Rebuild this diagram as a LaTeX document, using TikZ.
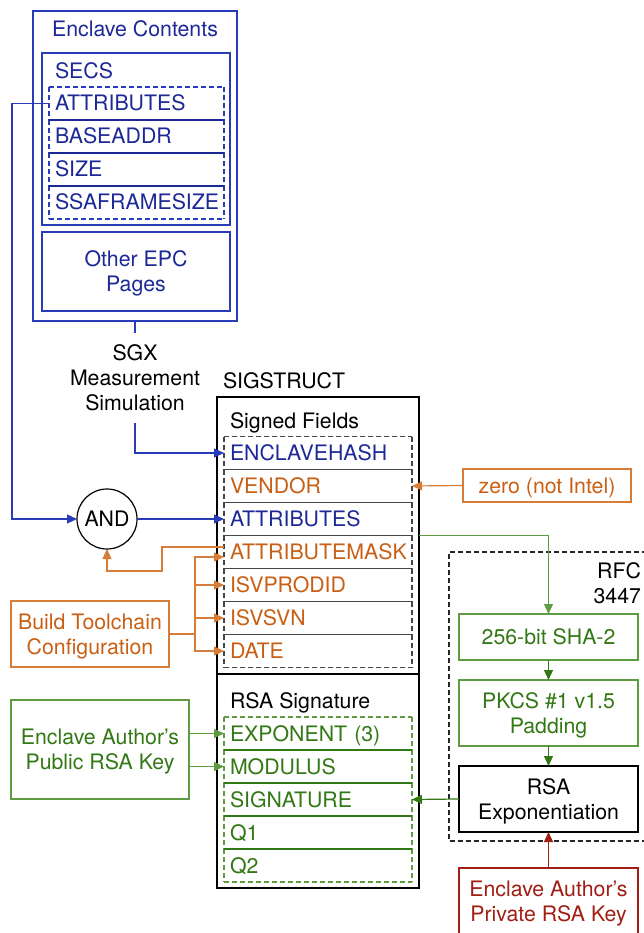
\documentclass[tikz,border=0pt]{standalone}
\usepackage{fontspec}
\setmainfont{TeX Gyre Heros}
\usetikzlibrary{arrows.meta}
\definecolor{bluet}{RGB}{28,40,150}
\definecolor{bluel}{RGB}{40,60,185}
\definecolor{orat}{RGB}{200,95,20}
\definecolor{oral}{RGB}{215,125,55}
\definecolor{grnt}{RGB}{50,120,20}
\definecolor{grnl}{RGB}{95,155,65}
\definecolor{redt}{RGB}{160,30,20}
\definecolor{grayd}{RGB}{70,70,70}
\begin{document}
\begin{tikzpicture}[x=1pt,y=-1pt, line width=1.2pt,
  font=\fontsize{21.3}{25}\selectfont,
  >={Triangle[length=10pt,width=9pt]},
  box/.style={draw, rectangle, inner sep=0pt, outer sep=0pt, align=center, anchor=north west, text depth=0pt},
  rowbase/.style={rectangle, inner xsep=6pt, inner ysep=0pt, outer sep=0pt, minimum height=33pt,
     align=left, text height=15pt, text depth=0pt, anchor=west},
  rowE/.style={rowbase, text width=163pt},
  rowS/.style={rowbase, text width=176pt},
  lbl/.style={inner sep=0pt, outer sep=0pt, text height=15pt, text depth=0pt},
  dsh/.style={dash pattern=on 5pt off 3pt, line width=1.1pt},
  sep/.style={line width=1.1pt}
]
\useasboundingbox (0,0) rectangle (644,933);

% ---------------- Enclave contents
\node[box, draw=bluel, minimum width=204pt, minimum height=310pt] (enc) at (33,11) {};
\node[lbl, text=bluet] (enctitle) at (135,29) {Enclave Contents};
\node[box, draw=bluel, minimum width=188pt, minimum height=172pt] (secs) at (42,53) {};
\node[lbl, anchor=west, text=bluet] (secstitle) at (55,71) {SECS};
\node[rowE, text=bluet] (a1) at (49,103.5) {ATTRIBUTES};
\node[rowE, text=bluet] (ba) at (49,136.5) {BASEADDR};
\node[rowE, text=bluet] (sz) at (49,169.5) {SIZE};
\node[rowE, text=bluet] (ssa) at (49,202.5) {SSAFRAMESIZE};
\foreach \r in {a1,ba,sz,ssa}{\draw[bluel,dsh] (\r.north west) -- (\r.south west) (\r.north east) -- (\r.south east);}
\draw[bluel,dsh] (a1.north west) -- (a1.north east) (ssa.south west) -- (ssa.south east);
\foreach \r in {a1,ba,sz}{\draw[bluet,sep] (\r.south west) -- (\r.south east);}
\node[box, draw=bluel, text=bluet, minimum width=188pt, minimum height=79pt] (epc) at (42,232) {Other EPC\\Pages};

% ---------------- SGX measurement
\node[inner ysep=12pt, inner xsep=0pt, outer sep=0pt, align=center, anchor=north, text depth=0pt] (sgx) at (135,333) {SGX\\Measurement\\Simulation};
\draw[bluel] (enc.south) -- (sgx.north);

% ---------------- SIGSTRUCT
\node[lbl, anchor=west] (sigt) at (223,381) {SIGSTRUCT};
\node[box, draw=black, minimum width=202pt, minimum height=277pt] (sf) at (217,397) {};
\node[box, draw=black, minimum width=202pt, minimum height=214pt] (rs) at (217,674) {};
\node[lbl, anchor=west] (sft) at (230,421) {Signed Fields};
\node[lbl, anchor=west] (rst) at (230,701) {RSA Signature};

\node[rowS, text=bluet] (eh) at (224,453) {ENCLAVEHASH};
\node[rowS, text=orat] (ven) at (224,486) {VENDOR};
\node[rowS, text=bluet] (at2) at (224,519) {ATTRIBUTES};
\node[rowS, text=orat] (am) at (224,552) {ATTRIBUTEMASK};
\node[rowS, text=orat] (isvp) at (224,585) {ISVPRODID};
\node[rowS, text=orat] (isvs) at (224,618) {ISVSVN};
\node[rowS, text=orat] (date) at (224,651) {DATE};
\foreach \r in {eh,ven,at2,am,isvp,isvs,date}{\draw[grayd,dsh] (\r.north west) -- (\r.south west) (\r.north east) -- (\r.south east);}
\draw[grayd,dsh] (eh.north west) -- (eh.north east) (date.south west) -- (date.south east);
\foreach \r in {eh,ven,at2,am,isvp,isvs}{\draw[grayd,sep] (\r.south west) -- (\r.south east);}

\node[rowS, text=grnt] (exp) at (224,733.5) {EXPONENT (3)};
\node[rowS, text=grnt] (mod) at (224,766.5) {MODULUS};
\node[rowS, text=grnt] (sig) at (224,799.5) {SIGNATURE};
\node[rowS, text=grnt] (q1) at (224,832.5) {Q1};
\node[rowS, text=grnt] (q2) at (224,865.5) {Q2};
\foreach \r in {exp,mod,sig,q1,q2}{\draw[grnl,dsh] (\r.north west) -- (\r.south west) (\r.north east) -- (\r.south east);}
\draw[grnl,dsh] (exp.north west) -- (exp.north east) (q2.south west) -- (q2.south east);
\foreach \r in {exp,mod,sig,q1}{\draw[grnt,sep] (\r.south west) -- (\r.south east);}

% ---------------- AND
\node[circle, draw=black, minimum size=60pt, inner sep=0pt, outer sep=0pt] (and) at (107,519) {AND};
\draw[bluel,->] (a1.west) -- ++(-37,0) |- (and.west);
\draw[bluel,->] (and.east) -- (at2.west);
\draw[bluel,->] (sgx.south) |- (eh.west);

% ---------------- zero
\node[box, draw=oral, text=orat, minimum width=168pt, minimum height=33pt] (zero) at (463,469) {zero (not Intel)};
\draw[oral,->] (zero.west) -- (ven.east);

% ---------------- build toolchain
\node[box, draw=oral, text=orat, minimum width=158pt, minimum height=66pt] (bt) at (11,601) {Build Toolchain\\Configuration};
\draw[oral] (bt.east) -- ++(26,0) coordinate (btj);
\draw[oral,->] (btj) |- ([yshift=-5pt]am.west);
\draw[oral,->] (btj) |- (isvp.west);
\draw[oral,->] (btj) |- (isvs.west);
\draw[oral,->] (btj) |- (date.west);
\draw[oral,->] ([yshift=5pt]am.west) -- ++(-62,0) -- ++(0,24) -| (and.south);

% ---------------- public key
\node[box, draw=grnl, text=grnt, minimum width=178pt, minimum height=99pt] (pub) at (11,700) {Enclave Author’s\\Public RSA Key};
\draw[grnl,->] (pub.east |- exp.west) -- (exp.west);
\draw[grnl,->] (pub.east |- mod.west) -- (mod.west);

% ---------------- RFC 3447
\draw[black!85,dsh] (655,552) -- (449,552) -- (449,841) -- (655,841);
\node[inner sep=0pt, outer sep=0pt, align=right, anchor=north east] (rfc) at (641,562.5) {RFC\\3447};
\node[box, draw=grnl, text=grnt, minimum width=179pt, minimum height=46pt] (sha) at (459,614) {256-bit SHA-2};
\node[box, draw=grnl, text=grnt, minimum width=179pt, minimum height=66pt] (pkcs) at (459,680) {PKCS \#1 v1.5\\Padding};
\node[box, draw=black, minimum width=179pt, minimum height=66pt] (rsa) at (459,766) {RSA\\Exponentiation};
\node[box, draw=redt, text=redt, minimum width=179pt, minimum height=66pt] (priv) at (459,868) {Enclave Author’s\\Private RSA Key};
\draw[grnl,->] (sf.east |- am.north) -| (sha.north);
\draw[grnt,->] (sha.south) -- (pkcs.north);
\draw[grnt,->] (pkcs.south) -- (rsa.north);
\draw[grnt,->] (rsa.west) -- (sig.east);
\draw[redt,->] (priv.north) -- (rsa.south);
\end{tikzpicture}
\end{document}
